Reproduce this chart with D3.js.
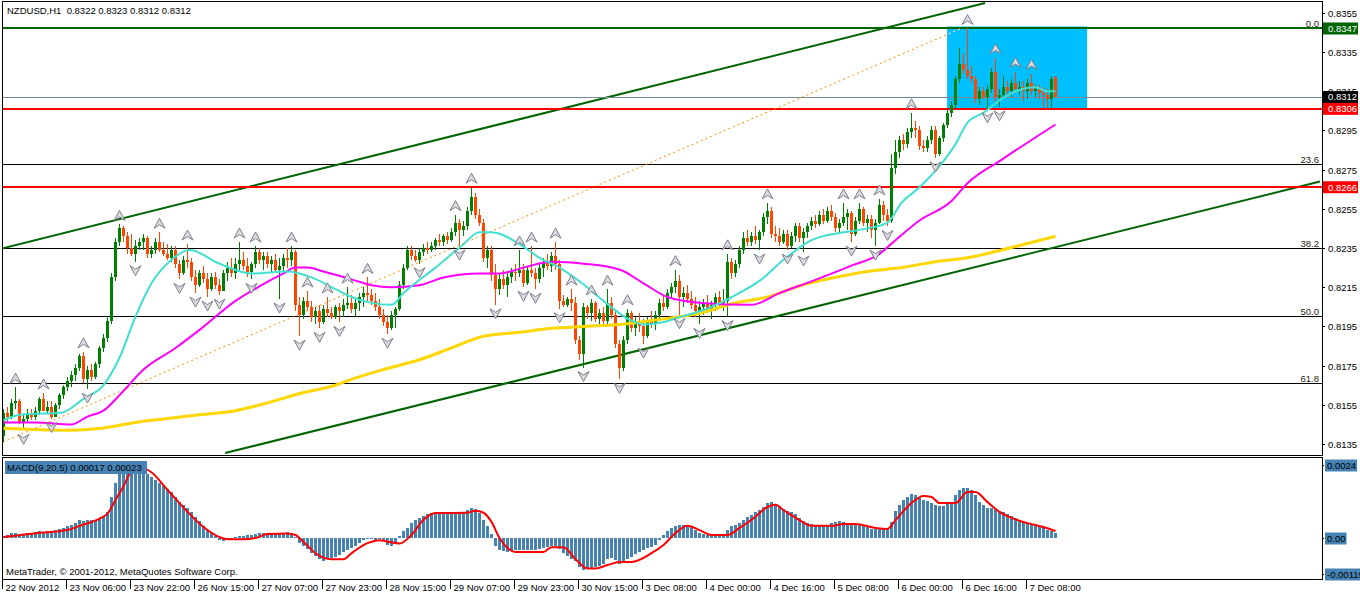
<!DOCTYPE html>
<html><head><meta charset="utf-8">
<script src="https://cdn.jsdelivr.net/npm/d3@7"></script>
<style>
html,body{margin:0;padding:0;background:#fff;}
svg{display:block;font-family:"Liberation Sans",Arial,sans-serif;}
</style></head><body>
<svg id="chart" width="1360" height="596"></svg>
<script>
// ---------- DATA (prices in pips: 8312 = 0.8312; MACD in units of 0.0001) ----------
const opens = [8139,8151,8149,8156,8157,8146,8148,8151,8149,8152,
8158,8152,8154,8149,8155,8160,8164,8167,8170,8174,
8180,8168,8173,8169,8176,8184,8189,8198,8220,8238,
8245,8241,8235,8232,8236,8238,8240,8232,8234,8238,
8234,8232,8230,8234,8227,8222,8229,8228,8220,8216,
8222,8219,8214,8220,8216,8213,8222,8225,8222,8227,
8229,8226,8223,8227,8233,8229,8231,8227,8229,8224,
8226,8230,8229,8233,8206,8201,8208,8205,8200,8203,
8197,8204,8202,8200,8205,8203,8206,8207,8204,8207,
8210,8212,8211,8208,8205,8201,8197,8194,8201,8204,
8216,8225,8234,8231,8229,8233,8235,8234,8236,8239,
8238,8241,8239,8243,8248,8244,8246,8254,8261,8252,
8248,8230,8234,8221,8214,8219,8216,8220,8223,8222,
8224,8217,8224,8222,8219,8225,8228,8226,8231,8227,
8208,8206,8209,8207,8188,8181,8205,8202,8207,8199,
8202,8198,8207,8201,8186,8174,8188,8202,8194,8198,
8195,8190,8198,8196,8201,8207,8205,8212,8215,8218,
8210,8212,8209,8206,8203,8205,8207,8204,8206,8210,
8207,8208,8228,8222,8227,8234,8240,8238,8241,8239,
8243,8251,8254,8242,8241,8238,8242,8236,8241,8246,
8240,8243,8246,8249,8247,8252,8249,8254,8251,8245,
8248,8251,8253,8242,8249,8255,8248,8250,8244,8248,
8257,8252,8249,8276,8284,8290,8288,8294,8296,8295,
8287,8286,8290,8295,8283,8291,8298,8304,8308,8321,
8329,8326,8323,8321,8311,8315,8312,8316,8325,8312,
8313,8317,8315,8319,8316,8317,8315,8319,8315,8316,
8314,8313,8311,8322];
const highs = [8153,8154,8158,8164,8158,8150,8153,8153,8154,8159,
8161,8157,8157,8156,8161,8165,8169,8172,8176,8181,
8182,8175,8176,8177,8185,8191,8200,8222,8240,8247,
8246,8243,8242,8239,8240,8242,8241,8236,8240,8243,
8238,8237,8236,8236,8229,8231,8237,8230,8224,8224,
8226,8222,8222,8223,8219,8224,8228,8230,8230,8238,
8233,8230,8228,8236,8235,8233,8233,8231,8232,8230,
8232,8235,8236,8234,8210,8210,8213,8208,8205,8206,
8206,8210,8205,8206,8207,8209,8215,8211,8209,8212,
8215,8220,8214,8212,8209,8204,8201,8203,8205,8218,
8227,8236,8236,8234,8235,8237,8238,8238,8240,8242,
8242,8243,8245,8252,8250,8249,8256,8266,8263,8255,
8250,8236,8236,8227,8222,8224,8222,8225,8227,8234,
8227,8226,8236,8225,8227,8230,8232,8233,8238,8229,
8211,8210,8214,8210,8190,8207,8206,8209,8208,8204,
8205,8214,8210,8203,8188,8190,8204,8203,8200,8202,
8199,8200,8203,8203,8209,8211,8214,8217,8224,8221,
8215,8216,8213,8210,8208,8209,8211,8208,8212,8213,
8214,8232,8230,8229,8236,8243,8244,8243,8246,8244,
8253,8258,8256,8246,8245,8244,8244,8243,8248,8248,
8245,8248,8251,8252,8254,8255,8256,8257,8253,8250,
8258,8255,8254,8251,8258,8256,8252,8252,8250,8260,
8259,8255,8283,8290,8292,8293,8296,8304,8300,8297,
8290,8292,8297,8297,8292,8299,8306,8310,8323,8337,
8334,8347,8328,8323,8317,8317,8318,8327,8332,8316,
8323,8320,8321,8325,8320,8320,8321,8324,8318,8318,
8317,8316,8323,8323];
const lows = [8136,8146,8148,8153,8145,8142,8146,8147,8147,8150,
8152,8151,8148,8149,8153,8158,8162,8164,8167,8172,
8166,8163,8167,8168,8174,8182,8187,8196,8218,8236,
8238,8232,8231,8228,8234,8234,8230,8230,8232,8233,
8231,8229,8228,8225,8219,8221,8225,8218,8212,8215,
8217,8210,8213,8214,8211,8213,8218,8220,8219,8224,
8224,8220,8219,8225,8227,8224,8225,8223,8222,8209,
8222,8225,8226,8203,8190,8199,8203,8197,8196,8194,
8196,8200,8199,8199,8197,8200,8204,8202,8200,8203,
8205,8208,8206,8203,8199,8195,8191,8193,8194,8203,
8214,8224,8229,8228,8227,8231,8232,8233,8234,8236,
8236,8237,8238,8241,8236,8241,8244,8252,8250,8246,
8228,8225,8218,8206,8211,8214,8210,8217,8218,8220,
8215,8216,8220,8214,8217,8220,8224,8223,8224,8204,
8205,8205,8203,8186,8178,8174,8199,8198,8197,8196,
8196,8196,8199,8184,8168,8172,8186,8192,8190,8192,
8186,8189,8194,8193,8199,8203,8204,8209,8212,8201,
8205,8207,8204,8200,8196,8201,8202,8199,8203,8204,
8203,8200,8219,8220,8225,8232,8236,8236,8237,8234,
8241,8247,8240,8238,8236,8237,8234,8235,8238,8238,
8233,8240,8244,8245,8246,8247,8248,8249,8243,8242,
8246,8244,8238,8241,8247,8246,8243,8240,8236,8247,
8249,8246,8248,8273,8281,8285,8286,8291,8291,8285,
8284,8284,8288,8281,8282,8289,8296,8302,8306,8319,
8324,8321,8319,8309,8308,8311,8306,8314,8310,8307,
8311,8313,8312,8314,8313,8310,8311,8313,8312,8311,
8307,8306,8306,8312];
const closes = [8151,8149,8156,8157,8146,8148,8151,8149,8152,8158,
8152,8154,8149,8155,8160,8164,8167,8170,8174,8180,
8168,8173,8169,8176,8184,8189,8198,8220,8238,8245,
8241,8235,8232,8236,8238,8240,8232,8234,8238,8234,
8232,8230,8234,8227,8222,8229,8228,8220,8216,8222,
8219,8214,8220,8216,8213,8222,8225,8222,8227,8229,
8226,8223,8227,8233,8229,8231,8227,8229,8224,8226,
8230,8229,8233,8206,8201,8208,8205,8200,8203,8197,
8204,8202,8200,8205,8203,8206,8207,8204,8207,8210,
8212,8211,8208,8205,8201,8197,8194,8201,8204,8216,
8225,8234,8231,8229,8233,8235,8234,8236,8239,8238,
8241,8239,8243,8248,8244,8246,8254,8261,8252,8248,
8230,8234,8221,8214,8219,8216,8220,8223,8222,8224,
8217,8224,8222,8219,8225,8228,8226,8231,8227,8208,
8206,8209,8207,8188,8181,8205,8202,8207,8199,8202,
8198,8207,8201,8186,8174,8188,8202,8194,8198,8195,
8190,8198,8196,8201,8207,8205,8212,8215,8218,8210,
8212,8209,8206,8203,8205,8207,8204,8206,8210,8207,
8208,8228,8222,8227,8234,8240,8238,8241,8239,8243,
8251,8254,8242,8241,8238,8242,8236,8241,8246,8240,
8243,8246,8249,8247,8252,8249,8254,8251,8245,8248,
8251,8253,8242,8249,8255,8248,8250,8244,8248,8257,
8252,8249,8276,8284,8290,8288,8294,8296,8295,8287,
8286,8290,8295,8283,8291,8298,8304,8308,8321,8329,
8326,8323,8321,8311,8315,8312,8316,8325,8312,8313,
8317,8315,8319,8316,8317,8315,8319,8315,8316,8314,
8313,8311,8321,8312];

// moving averages: [bar, price]
const maFast = [[0,8147],[4.5,8150],[14.5,8151],[20,8158],[25,8165],[29,8179],[33,8200],[37,8217],[42,8229],[46.5,8234],[54,8227],[62,8222],[71,8223],[77,8220],[83,8214],[87,8210],[92,8207],[97,8206],[100,8212],[108,8225],[114.5,8236],[119,8243],[122,8243],[129,8237],[134,8230],[139,8225],[144,8218],[150,8208],[156,8199],[160,8196],[164.5,8197],[169.5,8200],[174.5,8203],[183,8211],[189.5,8219],[195,8229],[202,8239],[210,8243],[216,8245],[221,8248],[224.5,8258],[229,8266],[234.5,8278],[238,8288],[241,8299],[245,8304],[249.5,8311],[254.5,8316],[258,8317],[261,8315],[263,8315]];
const maMid = [[0,8146],[8,8146],[17,8145],[21,8149],[25,8152],[29.5,8161],[35,8173],[43,8184],[49.5,8194],[58,8208],[64.5,8216],[70,8222],[73,8225],[76,8225],[80,8223],[87,8219],[92,8216],[97,8215],[104,8216],[110,8220],[119,8222],[124,8222],[130,8225],[137,8228],[145,8227],[154,8224],[160,8217],[166,8210],[174.5,8207],[187,8206],[194,8212],[202,8218],[212,8226],[219,8232],[223,8239],[229,8249],[237,8259],[241,8268],[249.5,8280],[263,8298]];
const maSlow = [[0,8143],[16,8142],[24.5,8143],[33,8146],[41,8148],[49.5,8150],[58,8152],[66,8156],[74.5,8161],[83,8165],[87,8168],[95,8173],[104,8178],[112,8184],[120,8190],[129,8192],[137,8194],[145,8195],[154,8196],[162,8198],[174.5,8202],[183,8207],[191,8210],[199.5,8216],[208,8220],[216,8223],[224.5,8225],[233,8228],[241,8230],[249.5,8234],[263,8241]];

// Bill Williams fractals (bar indices)
const fractalUp = [3,10,20,29,39,46,59,63,72,76,81,86,91,113,117,129,132,138,142,147,151,156,168,181,191,210,214,219,227,241,248,253,257];
const fractalDown = [5,12,21,33,44,48,51,54,62,69,74,79,84,96,104,114,123,130,133,139,145,154,160,169,174,181,189,196,200,212,218,221,233,246,249];

// MACD(9,20,5) histogram (main) and signal, in 0.0001
const macdMain = [0.5,1,1.5,1.8,1.2,1.3,1.5,1.6,2,2.2,
2.1,2.3,2.4,2.5,2.8,3.3,3.8,4.3,5,5.8,
5.6,5.8,5.8,6,6.5,7.2,8.5,13.5,18,21.5,
23.5,24.5,25,24.5,23.5,22,21,20,19,18,
17,16,15,13.5,12,11,10,8.5,7,5.5,
4,2.5,1.5,0.5,-0.5,-1,-0.6,-0.2,0.3,0.6,
0.8,1,0.9,1.2,1.6,1.8,1.8,1.7,1.8,1.6,
1.8,1.9,1.7,0.2,-1.5,-2.5,-3.5,-5,-6,-6.8,
-7.5,-7,-6.5,-6.2,-5.5,-4.5,-4,-3.2,-2.5,-1.6,
-0.8,-0.4,-0.3,-0.5,-0.4,-0.9,-2.3,-2.7,-1.5,0.8,
2.2,3.3,4.8,5.8,6.5,7.2,7.8,8.2,8.5,8.7,
8.7,8.6,8.5,8.6,8.5,8.6,9.3,10,9.5,8.2,
6,3.8,1.2,-2.6,-3.8,-4.4,-4.5,-4.3,-4,-3.8,
-3.9,-4,-4,-3.8,-3.6,-3.4,-3,-2.6,-2.5,-3.5,
-5,-6,-6.8,-7.6,-9.5,-10.5,-10.2,-9.8,-9.5,-9.2,
-8.5,-7,-6.6,-7.2,-8.5,-8.3,-7,-6.2,-5.4,-4.6,
-3.9,-3.4,-2.9,-2.4,-0.5,1,2.3,3.3,3.9,4.3,
4.3,4.4,3.7,2.5,1.6,1.2,1,1,0.9,1,
1.2,2.5,3.8,4.4,5,6,6.8,7.5,8.5,9.2,
10.2,11.4,12,11,10.5,9.5,8.8,8.4,7.8,6.6,
5.7,5,4.5,4.3,4.3,4.2,4.3,4.8,5.4,5.5,
5.2,4.4,4.3,4.3,4.2,3.9,3.6,3.1,3,3.1,
3.2,3.3,5.2,8.9,11,12.4,13.5,14.6,14.2,13.2,
12.6,12.2,11.5,11,10.5,10.6,11.2,12,14,15.8,
16.5,16.5,15.8,14,12,10.8,9.8,9.8,9.4,8.8,
8.6,8,7.1,6.6,6,5.4,5,4.6,4.2,3.8,
3.5,2.5,2.2,1.7];
const macdSignal = [[0,0.3],[8,1.6],[16,2.6],[19,4.0],[24,6.4],[26,8.0],[28,12.5],[30,17],[31.5,21],[33,23],[36,22.4],[41,15.8],[46,8.6],[50,3.6],[54,0.3],[56,-0.4],[60,-0.4],[63,0],[66,1.3],[71,1.5],[73,1],[75,-1.3],[78,-5],[82,-7],[85,-7],[87,-5],[91,-1.7],[94,-0.7],[96,-1.2],[99,-1.8],[102,1],[105,6],[108,8.2],[116,8.3],[118,9],[120,8.3],[122,5.3],[124,0],[126,-3.3],[128,-4.6],[135,-4.6],[137,-3],[140,-3],[143,-7],[146,-10],[148,-10],[151,-8.9],[154,-7.9],[157,-7.9],[162,-5],[165,-2.3],[168,1.6],[171,4],[174,2.6],[177,1],[181,1],[184,3.3],[188,7],[191,10.2],[193,10.9],[195,9.2],[199,5.9],[202,4],[207,4],[210,4.6],[213,4.6],[218,3.3],[221,3],[223,5.9],[227,11.5],[230,13.8],[232,13.5],[234,11.5],[238,11.5],[241,15.1],[243,15.1],[246,11.8],[249,8.6],[252,6.6],[256,4.9],[260,3.6],[263,2.3]];

// horizontal levels / objects
const levelGreen = 8347, levelBid = 8312, levelsRed = [8306, 8266];
const fibLevels = [8347, 8278, 8235, 8200.5, 8166];
const fibLabels = ["0.0", "23.6", "38.2", "50.0", "61.8"];
const channelUpper = [[-0.875, 8234.5], [245.4, 8360]];
const channelLower = [[55.4, 8130.4], [329.1, 8268.9]];
const fibTrend = [[-0.125, 8136], [239.1, 8346.7]];
const boxBars = [235.9, 270.9], boxPrices = [8348, 8306];

// axes
const priceTicks = [8355,8335,8315,8295,8275,8255,8235,8215,8195,8175,8155,8135];
const timeTickBars = [0,16,32,48,64,80,96,112,128,144,160,176,192,208,224,240,256];
const timeTickLabels = ["22 Nov 2012","23 Nov 06:00","23 Nov 22:00","26 Nov 15:00","27 Nov 07:00","27 Nov 23:00","28 Nov 15:00","29 Nov 07:00","29 Nov 23:00","30 Nov 15:00","3 Dec 08:00","4 Dec 00:00","4 Dec 16:00","5 Dec 08:00","6 Dec 00:00","6 Dec 16:00","7 Dec 08:00"];
const macdTicks = [24, 0, -11.9];
const macdTickLabels = ["0.0024", "0.00", "-0.00119"];
const titleText = "NZDUSD,H1  0.8322 0.8323 0.8312 0.8312";
const macdTitle = "MACD(9,20,5) 0.00017 0.00023";
const copyright = "MetaTrader, \u00A9 2001-2012, MetaQuotes Software Corp.";

// ---------- DRAW ----------
const svg = d3.select("#chart");
const PL = 2, PR = 1322, MT = 1, MB = 455, QT = 457, QB = 579;
const x = d3.scaleLinear().domain([0, 100]).range([3.5, 403.5]);
const y = d3.scaleLinear().domain([8135, 8335]).range([444, 52]);
const ym = d3.scaleLinear().domain([0, 24]).range([538, 465]);
const fmtP = v => (v / 10000).toFixed(4);

const defs = svg.append("defs");
defs.append("clipPath").attr("id", "clipMain").append("rect")
  .attr("x", PL + 1).attr("y", MT + 1).attr("width", PR - PL - 1).attr("height", MB - MT - 1);
defs.append("clipPath").attr("id", "clipMacd").append("rect")
  .attr("x", PL + 1).attr("y", QT + 1).attr("width", PR - PL - 1).attr("height", QB - QT - 1);
defs.append("clipPath").attr("id", "clipBox").append("rect")
  .attr("x", x(boxBars[0])).attr("y", y(boxPrices[0]))
  .attr("width", x(boxBars[1]) - x(boxBars[0])).attr("height", y(boxPrices[1]) - y(boxPrices[0]));

const main = svg.append("g").attr("clip-path", "url(#clipMain)");

// blue rectangle
main.append("rect")
  .attr("x", x(boxBars[0])).attr("y", y(boxPrices[0]))
  .attr("width", x(boxBars[1]) - x(boxBars[0])).attr("height", y(boxPrices[1]) - y(boxPrices[0]))
  .attr("fill", "#00BFFF");

// fib levels
const fibG = main.append("g");
fibLevels.forEach((lv, i) => {
  const yy = Math.round(y(lv)) + 0.5;
  fibG.append("line").attr("x1", PL).attr("x2", PR).attr("y1", yy).attr("y2", yy)
    .attr("stroke", "#000").attr("stroke-width", 1);
  fibG.append("text").attr("x", PR - 3).attr("y", yy - 2).attr("text-anchor", "end")
    .attr("font-size", "9.5px").attr("fill", "#2a2010").text(fibLabels[i]);
});

// channel lines
const lineGen = d3.line().x(d => x(d[0])).y(d => y(d[1]));
[channelUpper, channelLower].forEach(c => {
  main.append("path").attr("d", lineGen(c)).attr("fill", "none")
    .attr("stroke", "#006400").attr("stroke-width", 2);
});

// horizontal lines
function hline(v, color, w) {
  const yy = w === 1 ? Math.round(y(v)) + 0.5 : Math.round(y(v));
  main.append("line").attr("x1", PL).attr("x2", PR).attr("y1", yy).attr("y2", yy)
    .attr("stroke", color).attr("stroke-width", w);
}
hline(levelGreen, "#006400", 2);
hline(levelBid, "#778899", 1);
levelsRed.forEach(v => hline(v, "#FF0000", 2));

// fibo trend dotted
main.append("path").attr("d", lineGen(fibTrend)).attr("fill", "none")
  .attr("stroke", "#FF8C00").attr("stroke-width", 1).attr("stroke-dasharray", "2,3");
main.append("path").attr("d", lineGen(fibTrend)).attr("fill", "none")
  .attr("clip-path", "url(#clipBox)")
  .attr("stroke", "#ffffff").attr("stroke-width", 1).attr("stroke-dasharray", "2,3");

// candles
const bars = d3.range(closes.length);
const cg = main.append("g").attr("shape-rendering", "crispEdges");
const colorOf = i => closes[i] >= opens[i] ? "#008000" : "#FF4500";
cg.selectAll("line.w").data(bars).join("line")
  .attr("x1", i => x(i)).attr("x2", i => x(i))
  .attr("y1", i => y(highs[i])).attr("y2", i => y(lows[i]))
  .attr("stroke", colorOf).attr("stroke-width", 1);
cg.selectAll("rect.b").data(bars).join("rect")
  .attr("x", i => x(i) - 1.5).attr("width", 3)
  .attr("y", i => y(Math.max(opens[i], closes[i])))
  .attr("height", i => Math.max(1, Math.abs(y(opens[i]) - y(closes[i]))))
  .attr("fill", colorOf);

// moving averages
const maLine = d3.line().x(d => x(d[0])).y(d => y(d[1])).curve(d3.curveMonotoneX);
main.append("path").attr("d", maLine(maSlow)).attr("fill", "none").attr("stroke", "#FFD700").attr("stroke-width", 3);
main.append("path").attr("d", maLine(maMid)).attr("fill", "none").attr("stroke", "#FF00FF").attr("stroke-width", 2);
main.append("path").attr("d", maLine(maFast)).attr("fill", "none").attr("stroke", "#40E0D0").attr("stroke-width", 2);

// fractal arrows
const upPath = "M0,-5L5.5,5L0,1.5L-5.5,5Z";
const dnPath = "M0,5L5.5,-5L0,-1.5L-5.5,-5Z";
const fg = main.append("g");
fractalUp.forEach(k => {
  fg.append("path").attr("d", upPath).attr("transform", `translate(${x(k)},${y(highs[k]) - 9})`)
    .attr("fill", "#dcdce4").attr("stroke", "#7c7c88").attr("stroke-width", 1);
});
fractalDown.forEach(k => {
  fg.append("path").attr("d", dnPath).attr("transform", `translate(${x(k)},${y(lows[k]) + 9})`)
    .attr("fill", "#dcdce4").attr("stroke", "#7c7c88").attr("stroke-width", 1);
});

// title
svg.append("text").attr("x", 7).attr("y", 14).attr("font-size", "9.5px").attr("fill", "#000")
  .style("white-space", "pre").text(titleText);

// ---------- MACD pane ----------
const mg = svg.append("g").attr("clip-path", "url(#clipMacd)");
mg.append("g").attr("shape-rendering", "crispEdges").selectAll("rect").data(bars).join("rect")
  .attr("x", i => x(i) - 1.5).attr("width", 3)
  .attr("y", i => Math.min(ym(0), ym(macdMain[i])))
  .attr("height", i => Math.max(1, Math.abs(ym(macdMain[i]) - ym(0))))
  .attr("fill", "#4682B4");
mg.append("path").attr("d", d3.line().x(d => x(d[0])).y(d => ym(d[1])).curve(d3.curveMonotoneX)(macdSignal))
  .attr("fill", "none").attr("stroke", "#FF0000").attr("stroke-width", 2);
mg.append("rect").attr("x", 5).attr("y", 461).attr("width", 142).attr("height", 13).attr("fill", "#4682B4");
mg.append("text").attr("x", 7).attr("y", 471).attr("font-size", "9.5px").attr("fill", "#000").text(macdTitle);
mg.append("text").attr("x", 6).attr("y", 575).attr("font-size", "9.5px").attr("fill", "#000").text(copyright);

// ---------- frames ----------
const frame = svg.append("g").attr("fill", "none").attr("stroke", "#000").attr("stroke-width", 1).attr("shape-rendering", "crispEdges");
frame.append("rect").attr("x", PL + 0.5).attr("y", MT + 0.5).attr("width", PR - PL).attr("height", MB - MT);
frame.append("rect").attr("x", PL + 0.5).attr("y", QT + 0.5).attr("width", PR - PL).attr("height", QB - QT);

// ---------- price axis ----------
const ax = svg.append("g");
priceTicks.forEach(v => {
  const yy = Math.round(y(v)) + 0.5;
  ax.append("line").attr("x1", PR).attr("x2", PR + 3).attr("y1", yy).attr("y2", yy).attr("stroke", "#000");
  ax.append("text").attr("x", PR + 6).attr("y", yy).attr("dy", "0.35em").attr("font-size", "9.5px")
    .attr("fill", "#000").text(fmtP(v));
});
[[levelGreen, "#006400"], [levelBid, "#000000"], [levelsRed[0], "#FF0000"], [levelsRed[1], "#FF0000"]].forEach(([v, c]) => {
  const yy = y(v);
  ax.append("rect").attr("x", PR + 1).attr("y", yy - 6).attr("width", 35).attr("height", 12).attr("fill", c);
  ax.append("text").attr("x", PR + 6).attr("y", yy).attr("dy", "0.35em").attr("font-size", "9.5px")
    .attr("fill", "#fff").text(fmtP(v));
});

// MACD axis
macdTicks.forEach((v, i) => {
  const yy = Math.round(ym(v)) + 0.5;
  ax.append("line").attr("x1", PR).attr("x2", PR + 2).attr("y1", yy).attr("y2", yy).attr("stroke", "#000");
  const t = ax.append("text").attr("x", PR + 5).attr("y", yy).attr("dy", "0.35em").attr("font-size", "9.5px")
    .attr("fill", "#000").text(macdTickLabels[i]);
  const w = t.node().getComputedTextLength();
  ax.insert("rect", "text:last-child").attr("x", PR + 3).attr("y", yy - 6).attr("width", w + 3).attr("height", 12).attr("fill", "#4682B4");
  t.raise();
});

// time axis
const tx = svg.append("g");
timeTickBars.forEach((k, i) => {
  const xx = Math.round(x(k) - 2) + 0.5;
  tx.append("line").attr("x1", xx).attr("x2", xx).attr("y1", QB + 1).attr("y2", QB + 10).attr("stroke", "#000");
  tx.append("text").attr("x", xx + 3).attr("y", 591).attr("font-size", "9.5px").attr("fill", "#000").text(timeTickLabels[i]);
});
</script>
</body></html>
